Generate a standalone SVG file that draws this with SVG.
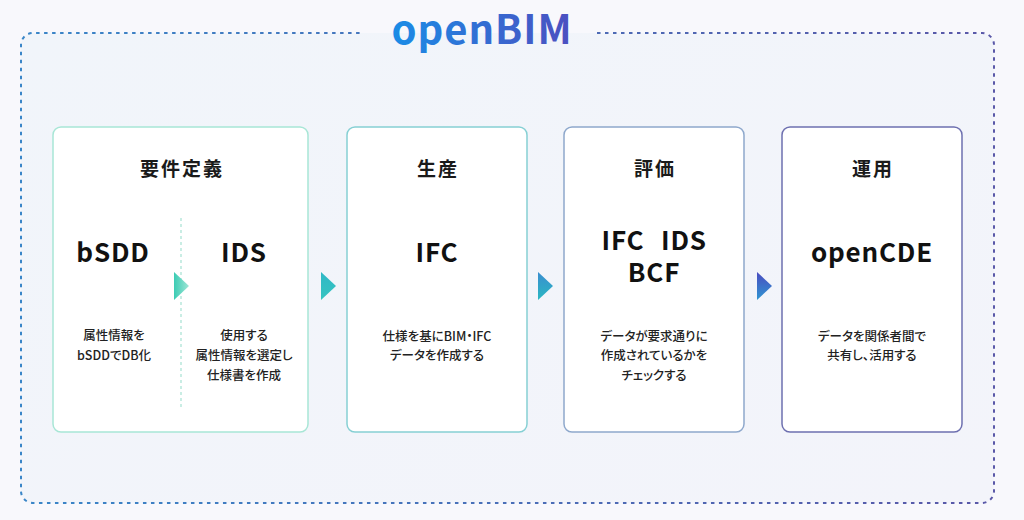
<svg xmlns="http://www.w3.org/2000/svg" width="1024" height="520" viewBox="0 0 1024 520">
  <defs>
    <linearGradient id="borderGrad" gradientUnits="userSpaceOnUse" x1="21" y1="0" x2="994" y2="0">
      <stop offset="0" stop-color="#3a86c8"/>
      <stop offset="1" stop-color="#5a58a8"/>
    </linearGradient>
    <linearGradient id="titleGrad" gradientUnits="userSpaceOnUse" x1="393" y1="0" x2="572" y2="0">
      <stop offset="0" stop-color="#1a8ce6"/>
      <stop offset="1" stop-color="#4c4fc0"/>
    </linearGradient>
    <linearGradient id="innerFill" x1="0" y1="0" x2="1" y2="1">
      <stop offset="0" stop-color="#f1f5fa"/>
      <stop offset="1" stop-color="#f3f4fa"/>
    </linearGradient>
    <linearGradient id="arrSmall" x1="0" y1="0" x2="1" y2="0">
      <stop offset="0" stop-color="#3cccb4"/>
      <stop offset="1" stop-color="#9fe6d6"/>
    </linearGradient>
    <linearGradient id="arr1" x1="0" y1="0" x2="0" y2="1">
      <stop offset="0" stop-color="#2fb8c6"/>
      <stop offset="1" stop-color="#36c4c0"/>
    </linearGradient>
    <linearGradient id="arr2" x1="0" y1="0" x2="0" y2="1">
      <stop offset="0" stop-color="#3a8ed0"/>
      <stop offset="1" stop-color="#2ab8c2"/>
    </linearGradient>
    <linearGradient id="arr3" x1="0" y1="0" x2="0" y2="1">
      <stop offset="0" stop-color="#4a4cc0"/>
      <stop offset="1" stop-color="#2f96d2"/>
    </linearGradient>
    <style>
      .card { fill: #ffffff; stroke-width: 1.5; }
      .head { font-family: "Noto Sans CJK JP", "Noto Sans", sans-serif; font-size: 19px; font-weight: 700; fill: #1a1a1a; text-anchor: middle; letter-spacing: 2px; }
      .big { font-family: "Noto Sans CJK JP", "Noto Sans", sans-serif; font-size: 26px; font-weight: 700; fill: #111111; text-anchor: middle; letter-spacing: 0.8px; }
      .desc { font-family: "Noto Sans CJK JP", "Noto Sans", sans-serif; font-size: 12.5px; font-weight: 500; fill: #222222; text-anchor: middle; font-feature-settings: "palt"; }
    </style>
  </defs>

  <rect x="0" y="0" width="1024" height="520" fill="#f8f8fc"/>

  <g id="frame">
    <rect x="21" y="33" width="973" height="470" rx="12" fill="url(#innerFill)"/>
    <path d="M597,33 H982 A12,12 0 0 1 994,45 V491 A12,12 0 0 1 982,503 H33 A12,12 0 0 1 21,491 V45 A12,12 0 0 1 33,33 H363" fill="none" stroke="url(#borderGrad)" stroke-width="2" stroke-dasharray="3.5 4.5"/>
    <text x="482" y="44" font-family="'Noto Sans CJK JP', 'Noto Sans', sans-serif" font-size="40" font-weight="700" fill="url(#titleGrad)" text-anchor="middle" letter-spacing="1">openBIM</text>
  </g>

  <g id="card-requirements">
    <rect class="card" x="53" y="127" width="255" height="305" rx="8" stroke="#a8e6d6"/>
    <text class="head" x="182" y="176">要件定義</text>
    <line x1="181" y1="218" x2="181" y2="410" stroke="#b8e8dc" stroke-width="1.5" stroke-dasharray="3 3"/>
    <text class="big" x="113" y="262">bSDD</text>
    <text class="big" x="244" y="262">IDS</text>
    <polygon points="174,272 189,286 174,300" fill="url(#arrSmall)"/>
    <text class="desc" x="114" y="340">属性情報を</text>
    <text class="desc" x="114" y="360">bSDDでDB化</text>
    <text class="desc" x="244" y="340">使用する</text>
    <text class="desc" x="244" y="360">属性情報を選定し</text>
    <text class="desc" x="244" y="380">仕様書を作成</text>
  </g>

  <g id="card-production">
    <rect class="card" x="347" y="127" width="180" height="305" rx="8" stroke="#86d0d4"/>
    <text class="head" x="438" y="176">生産</text>
    <text class="big" x="437" y="262">IFC</text>
    <text class="desc" x="437" y="341">仕様を基にBIM・IFC</text>
    <text class="desc" x="437" y="360">データを作成する</text>
  </g>

  <g id="card-evaluation">
    <rect class="card" x="564" y="127" width="180" height="305" rx="8" stroke="#8ea8cc"/>
    <text class="head" x="655" y="176">評価</text>
    <text class="big" x="623" y="250">IFC</text>
    <text class="big" x="684" y="250">IDS</text>
    <text class="big" x="654" y="282">BCF</text>
    <text class="desc" x="654" y="341">データが要求通りに</text>
    <text class="desc" x="654" y="360">作成されているかを</text>
    <text class="desc" x="654" y="380">チェックする</text>
  </g>

  <g id="card-operation">
    <rect class="card" x="782" y="127" width="180" height="305" rx="8" stroke="#6e70b0"/>
    <text class="head" x="873" y="176">運用</text>
    <text class="big" x="872" y="262">openCDE</text>
    <text class="desc" x="872" y="341">データを関係者間で</text>
    <text class="desc" x="872" y="360">共有し、活用する</text>
  </g>

  <g id="connectors">
    <polygon points="321,272 336,286 321,300" fill="url(#arr1)"/>
    <polygon points="538,272 553,286 538,300" fill="url(#arr2)"/>
    <polygon points="757,272 772,286 757,300" fill="url(#arr3)"/>
  </g>
</svg>
